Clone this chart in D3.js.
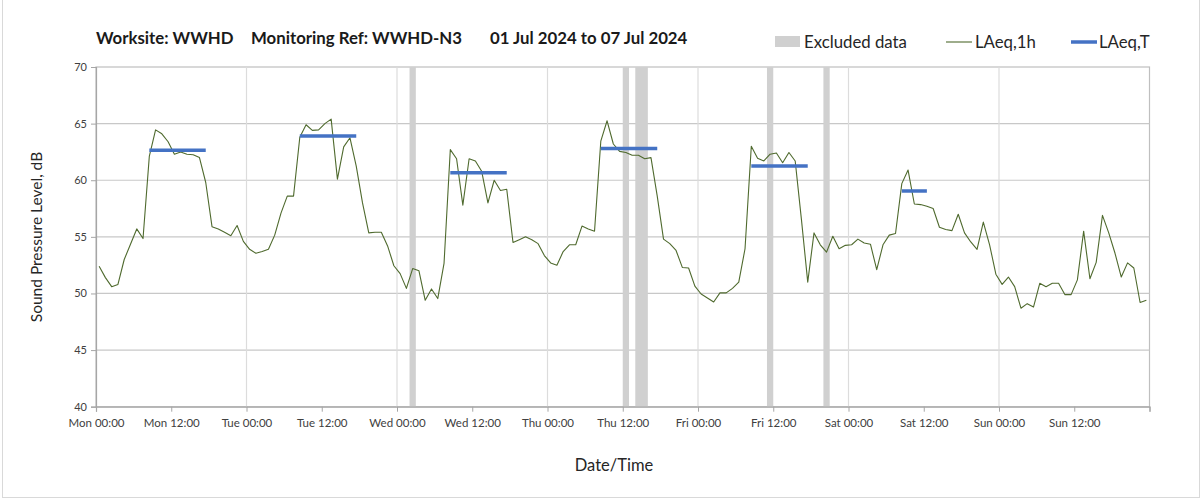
<!DOCTYPE html>
<html>
<head>
<meta charset="utf-8">
<script src="https://cdn.jsdelivr.net/npm/d3@7/dist/d3.min.js"></script>
<style>
  html, body { margin: 0; padding: 0; background: #fff; }
  svg { display: block; font-family: Lato, "Open Sans", sans-serif; }
</style>
</head>
<body>
<svg id="chart" width="1203" height="503"></svg>
<script>
// Hourly LAeq (dB), one reading per hour from Mon 00:00 to Sun 24:00
const laeq1h = [
  52.4, 51.4, 50.6, 50.8, 53.0, 54.35, 55.7, 54.85, 62.1, 64.45,
  64.1, 63.4, 62.3, 62.5, 62.3, 62.25, 62.0, 59.8, 55.9, 55.7,
  55.4, 55.1, 56.0, 54.6, 53.9, 53.55, 53.7, 53.9, 55.15, 57.1,
  58.6, 58.6, 63.8, 64.9, 64.4, 64.45, 65.0, 65.4, 60.1, 62.95,
  63.75, 61.25, 58.0, 55.35, 55.4, 55.4, 54.2, 52.45, 51.75, 50.45,
  52.2, 52.0, 49.4, 50.4, 49.55, 52.65, 62.7, 61.9, 57.8, 61.9,
  61.7, 60.8, 58.0, 60.0, 59.1, 59.2, 54.5, 54.75, 55.0, 54.75,
  54.4, 53.35, 52.7, 52.5, 53.7, 54.3, 54.3, 55.95, 55.7, 55.5,
  63.45, 65.25, 63.2, 62.55, 62.45, 62.2, 62.2, 61.9, 62.0, 58.6,
  54.8, 54.4, 53.8, 52.3, 52.25, 50.65, 49.95, 49.6, 49.25, 50.05,
  50.05, 50.45, 51.0, 53.95, 63.0, 61.95, 61.7, 62.3, 62.4, 61.55,
  62.45, 61.7, 56.5, 51.0, 55.35, 54.3, 53.65, 55.05, 53.95, 54.25,
  54.3, 54.8, 54.45, 54.35, 52.1, 54.3, 55.15, 55.3, 59.7, 60.9,
  57.9, 57.85, 57.7, 57.5, 55.85, 55.65, 55.55, 57.0, 55.35, 54.55,
  53.9, 56.3, 54.3, 51.7, 50.8, 51.45, 50.6, 48.7, 49.1, 48.8,
  50.9, 50.6, 50.9, 50.9, 49.9, 49.9, 51.2, 55.5, 51.3, 52.75,
  56.9, 55.35, 53.55, 51.45, 52.7, 52.25, 49.2, 49.4
];
// each hourly reading is plotted at the middle of its hour
const readingMidpoint = 0.5;

// LAeq,T over each daytime assessment period (hours from Mon 00:00)
const periodStart = [8.5, 32.5, 56.5, 80.5, 104.5, 128.5];
const periodEnd   = [17.5, 41.5, 65.5, 89.5, 113.5, 132.5];
const periodLevel = [62.65, 63.9, 60.65, 62.8, 61.25, 59.05];

// Excluded data windows (hours from Mon 00:00)
const excludedStart = [50, 84, 86, 107, 116];
const excludedEnd   = [51, 85, 88, 108, 117];

// Axis ticks
const xTickHours = [0, 12, 24, 36, 48, 60, 72, 84, 96, 108, 120, 132, 144, 156, 168];
const xTickLabels = ["Mon 00:00", "Mon 12:00", "Tue 00:00", "Tue 12:00", "Wed 00:00", "Wed 12:00",
  "Thu 00:00", "Thu 12:00", "Fri 00:00", "Fri 12:00", "Sat 00:00", "Sat 12:00",
  "Sun 00:00", "Sun 12:00", ""];
const dayBoundaries = [24, 48, 72, 96, 120, 144];
const yTicks = [40, 45, 50, 55, 60, 65, 70];

const titleParts = ["Worksite: WWHD", "Monitoring Ref: WWHD-N3", "01 Jul 2024 to 07 Jul 2024"];

const svg = d3.select("#chart");
const plotLeft = 96, plotRight = 1149.5, plotTop = 67, plotBottom = 406.7;

const x = d3.scaleLinear().domain([0, 168]).range([plotLeft, plotRight]);
const y = d3.scaleLinear().domain([40, 70]).range([plotBottom, plotTop]);

// outer frame
svg.append("rect").attr("x", 2.5).attr("y", -2).attr("width", 1197).attr("height", 499.5)
  .attr("fill", "#fff").attr("stroke", "#d9d9d9");

// plot background + frame
svg.append("rect").attr("x", plotLeft).attr("y", plotTop)
  .attr("width", plotRight - plotLeft).attr("height", plotBottom - plotTop)
  .attr("fill", "#fff").attr("stroke", "#bfbfbf").attr("stroke-width", 1.2);

// horizontal gridlines
svg.append("g").selectAll("line").data(yTicks.slice(1, -1)).join("line")
  .attr("x1", plotLeft).attr("x2", plotRight)
  .attr("y1", d => y(d)).attr("y2", d => y(d))
  .attr("stroke", "#c8c8c8").attr("stroke-width", 1.2);

// vertical gridlines at midnight
svg.append("g").selectAll("line").data(dayBoundaries).join("line")
  .attr("x1", d => x(d)).attr("x2", d => x(d))
  .attr("y1", plotTop).attr("y2", plotBottom)
  .attr("stroke", "#dcdcdc").attr("stroke-width", 1.2);

// excluded data bands
svg.append("g").selectAll("rect").data(excludedStart).join("rect")
  .attr("x", d => x(d))
  .attr("width", (d, i) => x(excludedEnd[i]) - x(d))
  .attr("y", plotTop).attr("height", plotBottom - plotTop)
  .attr("fill", "#d0d0d0");

// axes
const xAxis = d3.axisBottom(x).tickValues(xTickHours).tickSize(5).tickFormat((d, i) => xTickLabels[i]);
const gx = svg.append("g").attr("transform", `translate(0,${plotBottom})`).call(xAxis);
gx.select(".domain").attr("stroke", "#a6a6a6").attr("stroke-width", 1.2);
gx.selectAll(".tick line").attr("stroke", "#a6a6a6");
gx.selectAll(".tick text").attr("fill", "#404040").attr("font-size", 11.5)
  .attr("font-family", "Lato, sans-serif").attr("dy", "1.05em");

const yAxis = d3.axisLeft(y).tickValues(yTicks).tickSize(5).tickFormat(d3.format("d"));
const gy = svg.append("g").attr("transform", `translate(${plotLeft},0)`).call(yAxis);
gy.select(".domain").attr("stroke", "#a6a6a6").attr("stroke-width", 1.2);
gy.selectAll(".tick line").attr("stroke", "#a6a6a6");
gy.selectAll(".tick text").attr("fill", "#404040").attr("font-size", 11)
  .attr("font-family", "Lato, sans-serif").attr("x", -9);

// hourly LAeq line
const line = d3.line()
  .x((d, i) => x(i + readingMidpoint))
  .y(d => y(d));
svg.append("path").datum(laeq1h)
  .attr("d", line)
  .attr("fill", "none").attr("stroke", "#4f6a2e").attr("stroke-width", 1.1)
  .attr("stroke-linejoin", "round");

// LAeq,T period levels
svg.append("g").selectAll("line").data(periodLevel).join("line")
  .attr("x1", (d, i) => x(periodStart[i]))
  .attr("x2", (d, i) => x(periodEnd[i]))
  .attr("y1", d => y(d)).attr("y2", d => y(d))
  .attr("stroke", "#4472c4").attr("stroke-width", 3.5);

// title
const titleX = [96, 251, 490];
svg.append("g").selectAll("text").data(titleParts).join("text")
  .attr("x", (d, i) => titleX[i]).attr("y", 44)
  .attr("font-size", 16.8).attr("font-weight", "bold").attr("fill", "#1a1a1a")
  .text(d => d);

// legend
const lg = svg.append("g").attr("font-size", 16.8).attr("fill", "#262626");
lg.append("rect").attr("x", 775).attr("y", 36).attr("width", 25).attr("height", 11).attr("fill", "#d0d0d0");
lg.append("text").attr("x", 804).attr("y", 48).text("Excluded data");
lg.append("line").attr("x1", 946).attr("x2", 972).attr("y1", 42).attr("y2", 42)
  .attr("stroke", "#4f6a2e").attr("stroke-width", 1.1);
lg.append("text").attr("x", 975).attr("y", 48).text("LAeq,1h");
lg.append("line").attr("x1", 1071).attr("x2", 1097).attr("y1", 42).attr("y2", 42)
  .attr("stroke", "#4472c4").attr("stroke-width", 3.5);
lg.append("text").attr("x", 1099).attr("y", 48).text("LAeq,T");

// axis titles
svg.append("text").attr("transform", "translate(42,237) rotate(-90)")
  .attr("text-anchor", "middle").attr("font-size", 15.5).attr("fill", "#262626")
  .text("Sound Pressure Level, dB");
svg.append("text").attr("x", 614).attr("y", 471)
  .attr("text-anchor", "middle").attr("font-size", 16.5).attr("fill", "#262626")
  .text("Date/Time");
</script>
</body>
</html>
